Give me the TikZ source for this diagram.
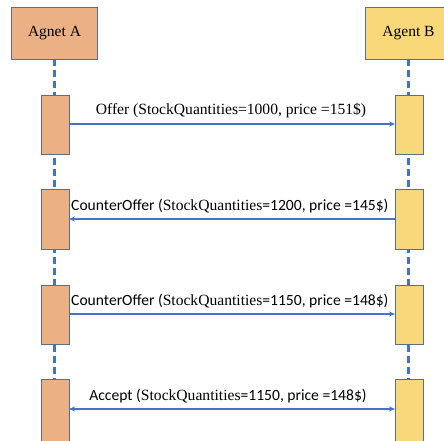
\documentclass[tikz,border=0pt]{standalone}
\usepackage{fontspec}
\setmainfont{Liberation Serif}
\newfontfamily\carl{Carlito}
\usetikzlibrary{arrows.meta}
\definecolor{boxA}{HTML}{EBB185}
\definecolor{boxB}{HTML}{F8D878}
\definecolor{edge}{HTML}{5A6E8C}
\definecolor{life}{HTML}{4472C4}
\begin{document}
\begin{tikzpicture}[x=1pt,y=-1pt,
  agentA/.style={draw=edge,fill=boxA,line width=1pt},
  agentB/.style={draw=edge,fill=boxB,line width=1pt},
  lifeline/.style={draw=life,line width=3pt,dash pattern=on 7pt off 4pt},
  msg/.style={draw=life,line width=1.2pt,-{Stealth[length=6pt,width=5pt]}},
  lbl/.style={font=\fontsize{15.6}{18}\selectfont,inner sep=0pt}]
\useasboundingbox (0,0) rectangle (444,440);
% lifelines
\draw[lifeline] (54,59) -- (54,440);
\draw[lifeline] (408,59) -- (408,440);
% headers
\node[agentA,minimum width=86pt,minimum height=52pt,anchor=north west,font=\fontsize{15.5}{18}\selectfont] (A) at (11,7) {Agnet A};
\draw[agentB] (365,7) rectangle (446,59);
\node[font=\fontsize{15.5}{18}\selectfont] (B) at (408.5,33) {Agent B};
% activations
\foreach \i/\t/\b in {1/95/154,2/189/249,3/285/344,4/379/442}{
  \node[agentA,anchor=north west,minimum width=28pt,minimum height={\b-\t},inner sep=0pt] (a\i) at (41,\t) {};
  \node[agentB,anchor=north west,minimum width=28pt,minimum height={\b-\t},inner sep=0pt] (b\i) at (395,\t) {};
}
% messages
\coordinate (m1a) at (69,124); \coordinate (m1b) at (395,124);
\draw[msg] (m1a) -- (m1b);
\node[lbl,anchor=base] (l1) at (231,114) {Offer (StockQuantities=1000, price =151\$)};
\coordinate (m2a) at (69,219); \coordinate (m2b) at (395,219);
\draw[msg] (m2b) -- (m2a);
\node[lbl,anchor=base west] (l2) at (71,210) {{\carl CounterOffer (}StockQuantities{\carl=1200, price =145\$)}};
\coordinate (m3a) at (69,314); \coordinate (m3b) at (395,314);
\draw[msg] (m3a) -- (m3b);
\node[lbl,anchor=base west] (l3) at (71,305) {{\carl CounterOffer (}StockQuantities{\carl=1150, price =148\$)}};
\coordinate (m4a) at (69,409); \coordinate (m4b) at (395,409);
\draw[msg,{Stealth[length=6pt,width=5pt]}-{Stealth[length=6pt,width=5pt]}] (m4a) -- (m4b);
\node[lbl,anchor=base] (l4) at (228,400) {{\carl Accept (}StockQuantities{\carl=1150, price =148\$)}};
\end{tikzpicture}
\end{document}
